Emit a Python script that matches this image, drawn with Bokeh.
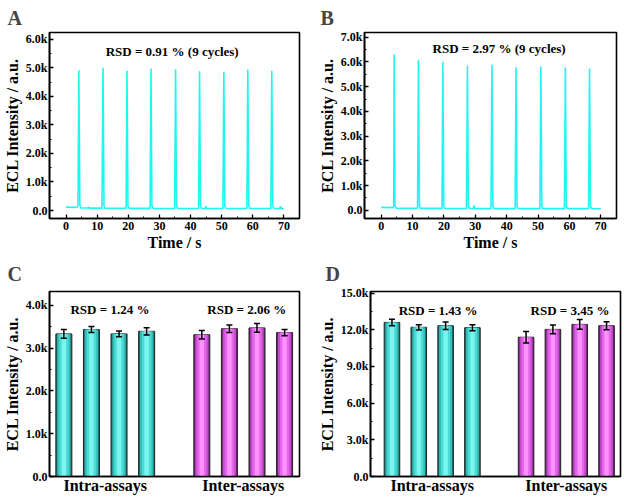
from bokeh.plotting import figure
from bokeh.layouts import column, row
from bokeh.models import FixedTicker, Range1d, ColumnDataSource, Whisker, TeeHead
from bokeh.core.properties import value
from bokeh.embed import file_html
from bokeh.resources import INLINE

FONT = "Liberation Serif"

# ---------------- data ----------------
# Panel A: ECL trace (time s, intensity a.u.)
time_a = [0, 3.5, 3.85, 4.13, 4.45, 4.8, 7.1, 7.3, 7.5, 11.55, 11.9, 12.2, 12.5,
          19.3, 19.6, 19.9, 20.3, 27.0, 27.3, 27.6, 28.0, 34.9, 35.2, 35.5, 35.9,
          42.6, 42.9, 43.2, 43.6, 44.7, 44.9, 45.1, 50.4, 50.7, 51.0, 51.4,
          58.1, 58.4, 58.7, 59.1, 65.8, 66.1, 66.4, 66.8, 68.7, 68.9, 69.1, 70.0]
ecl_a = [120, 110, 160, 4920, 190, 90, 90, 130, 85, 85, 5000, 180, 80,
         80, 4900, 170, 75, 75, 4980, 170, 75, 70, 4950, 170, 70,
         70, 4880, 160, 70, 70, 150, 70, 70, 4860, 160, 70,
         70, 4940, 170, 70, 70, 4900, 160, 70, 70, 150, 70, 65]

# Panel B: ECL trace
time_b = [0, 3.8, 4.0, 4.14, 4.4, 4.8, 11.6, 11.9, 12.2, 12.6, 19.4, 19.67, 19.95, 20.4,
          27.2, 27.5, 27.8, 28.2, 29.4, 29.6, 29.8, 35.0, 35.3, 35.6, 36.0,
          42.7, 43.0, 43.3, 43.7, 50.6, 50.9, 51.2, 51.6, 58.4, 58.7, 59.0, 59.4,
          66.1, 66.4, 66.7, 67.1, 70.0]
ecl_b = [120, 110, 160, 6300, 200, 90, 85, 6090, 180, 80, 80, 6010, 170, 75,
         75, 5860, 170, 75, 75, 200, 75, 70, 5890, 170, 70,
         70, 5780, 160, 70, 70, 5820, 160, 70, 70, 5770, 160, 70,
         70, 5730, 160, 70, 65]

time_ticks = [0, 10, 20, 30, 40, 50, 60, 70]
time_minor = [5, 15, 25, 35, 45, 55, 65]

yt_a = [0, 1000, 2000, 3000, 4000, 5000, 6000]
yl_a = ["0.0", "1.0k", "2.0k", "3.0k", "4.0k", "5.0k", "6.0k"]
yt_b = [0, 1000, 2000, 3000, 4000, 5000, 6000, 7000]
yl_b = ["0.0", "1.0k", "2.0k", "3.0k", "4.0k", "5.0k", "6.0k", "7.0k"]
yt_c = [0, 1000, 2000, 3000, 4000]
yl_c = ["0.0", "1.0k", "2.0k", "3.0k", "4.0k"]
yt_d = [0, 3000, 6000, 9000, 12000, 15000]
yl_d = ["0.0", "3.0k", "6.0k", "9.0k", "12.0k", "15.0k"]

rsd_a = ["RSD = 0.91 % (9 cycles)"]
rsd_b = ["RSD = 2.97 % (9 cycles)"]
rsd_c = ["RSD = 1.24 %", "RSD = 2.06 %"]
rsd_d = ["RSD = 1.43 %", "RSD = 3.45 %"]

groups = ["Intra-assays", "Inter-assays"]
group_pos = [2.5, 7.5]
pos_intra = [1, 2, 3, 4]
pos_inter = [6, 7, 8, 9]

c_intra = [3330, 3430, 3330, 3390]
c_intra_err = [100, 70, 65, 85]
c_inter = [3310, 3450, 3470, 3360]
c_inter_err = [100, 90, 100, 75]

d_intra = [12600, 12200, 12330, 12170]
d_intra_err = [270, 220, 300, 240]
d_inter = [11390, 12030, 12440, 12330]
d_inter_err = [470, 360, 400, 320]

CYAN_LAYERS = [(0.58, "#1f6f6c"), (0.48, "#34bdb8"), (0.34, "#4cdcd6"), (0.16, "#7af5ef")]
MAG_LAYERS = [(0.58, "#6e2270"), (0.48, "#c44ccc"), (0.34, "#e466ec"), (0.16, "#ff92ff")]


def base_fig(fw, fh, xr, yr, bl, br, bt, bb, letter, title_gap):
    p = figure(frame_width=fw, frame_height=fh, x_range=Range1d(*xr), y_range=Range1d(*yr),
               output_backend="svg", toolbar_location=None, tools="",
               min_border_left=bl, min_border_right=br, min_border_top=bt, min_border_bottom=bb)
    p.title.text = letter
    p.title.text_font = FONT
    p.title.text_font_style = "bold"
    p.title.text_font_size = "20px"
    p.title.offset = -bl
    p.title.standoff = title_gap
    p.xgrid.visible = False
    p.ygrid.visible = False
    p.outline_line_color = "black"
    p.outline_line_width = 1.6
    p.outline_line_alpha = 1.0
    for ax in (p.xaxis[0], p.yaxis[0]):
        ax.axis_line_width = 1.6
        ax.major_tick_in = 4
        ax.major_tick_out = 0
        ax.minor_tick_in = 2
        ax.minor_tick_out = 0
        ax.major_tick_line_width = 1.3
        ax.minor_tick_line_width = 1.0
        ax.major_label_text_font = FONT
        ax.major_label_text_font_style = "bold"
        ax.major_label_text_font_size = "12px"
        ax.major_label_text_color = "black"
        ax.axis_label_text_font = FONT
        ax.axis_label_text_font_style = "bold"
        ax.axis_label_text_font_size = "16px"
        ax.axis_label_text_color = "black"
        ax.major_label_standoff = 2
        ax.axis_label_standoff = 2
    p.yaxis[0].axis_label = "ECL Intensity / a.u."
    return p


def set_y(p, ticks, labels):
    minors = [t + (ticks[1] - ticks[0]) / 2 for t in ticks[:-1]]
    p.yaxis[0].ticker = FixedTicker(ticks=ticks, minor_ticks=minors)
    p.yaxis[0].major_label_overrides = {t: l for t, l in zip(ticks, labels)}


def trace_panel(letter, t, y, yt, yl, yr, rsd, rsd_x, rsd_y, fw, bl, br):
    p = base_fig(fw, 186, (-5.3, 75.0), yr, bl, br, 0, 0, letter, 8)
    p.line(t, y, line_color="#22f4f4", line_width=1.6)
    p.xaxis[0].ticker = FixedTicker(ticks=time_ticks, minor_ticks=time_minor)
    p.xaxis[0].axis_label = "Time / s"
    p.xaxis[0].major_label_standoff = 3
    p.xaxis[0].axis_label_standoff = 1
    set_y(p, yt, yl)
    p.text(x=[rsd_x], y=[rsd_y], text=rsd, text_font=value(FONT), text_font_style="bold",
           text_font_size="13px", text_align="center", text_baseline="middle", text_color="black")
    return p


def bars(p, pos, vals, errs, layers):
    for w, col in layers:
        p.vbar(x=pos, top=vals, width=w, bottom=0, fill_color=col,
               line_color="#222222" if w == layers[0][0] else None, line_width=1.0)
    src = ColumnDataSource(dict(x=pos, upper=[v + e for v, e in zip(vals, errs)],
                                lower=[v - e for v, e in zip(vals, errs)]))
    w = Whisker(base="x", upper="upper", lower="lower", source=src, line_color="black",
                line_width=1.5, level="annotation",
                upper_head=TeeHead(size=6, line_width=1.5, line_color="black"),
                lower_head=TeeHead(size=6, line_width=1.5, line_color="black"))
    p.add_layout(w)


def bar_panel(letter, xr, yr, yt, yl, intra, intra_e, inter, inter_e, rsd, rsd_x, rsd_y, fw, bl, br):
    p = base_fig(fw, 185, xr, yr, bl, br, 0, 0, letter, 14)
    bars(p, pos_intra, intra, intra_e, CYAN_LAYERS)
    bars(p, pos_inter, inter, inter_e, MAG_LAYERS)
    set_y(p, yt, yl)
    ax = p.xaxis[0]
    ax.ticker = FixedTicker(ticks=group_pos, minor_ticks=[])
    ax.major_label_overrides = {g: n for g, n in zip(group_pos, groups)}
    ax.major_label_text_font_size = "16px"
    ax.major_tick_line_color = None
    ax.minor_tick_line_color = None
    ax.major_label_standoff = 0
    p.text(x=rsd_x, y=rsd_y, text=rsd, text_font=value(FONT), text_font_style="bold",
           text_font_size="13px", text_align="center", text_baseline="middle", text_color="black")
    return p


pa = trace_panel("A", time_a, ecl_a, yt_a, yl_a, (-280, 6240), rsd_a, 34.1, 5570, 250, 42, 16)
pb = trace_panel("B", time_b, ecl_b, yt_b, yl_b, (-330, 7190), rsd_b, 37.6, 6560, 252, 44, 2)
pc = bar_panel("C", (0.48, 9.54), (0, 4320), yt_c, yl_c, c_intra, c_intra_err, c_inter, c_inter_err,
               rsd_c, [2.67, 7.63], [3910, 3910], 250, 42, 16)
pd = bar_panel("D", (0.2, 9.52), (0, 15130), yt_d, yl_d, d_intra, d_intra_err, d_inter, d_inter_err,
               rsd_d, [2.72, 7.64], [13600, 13600], 250, 45, 2)

layout = column(row(pa, pb), row(pc, pd))
open("out.html", "w").write(file_html(layout, INLINE))
